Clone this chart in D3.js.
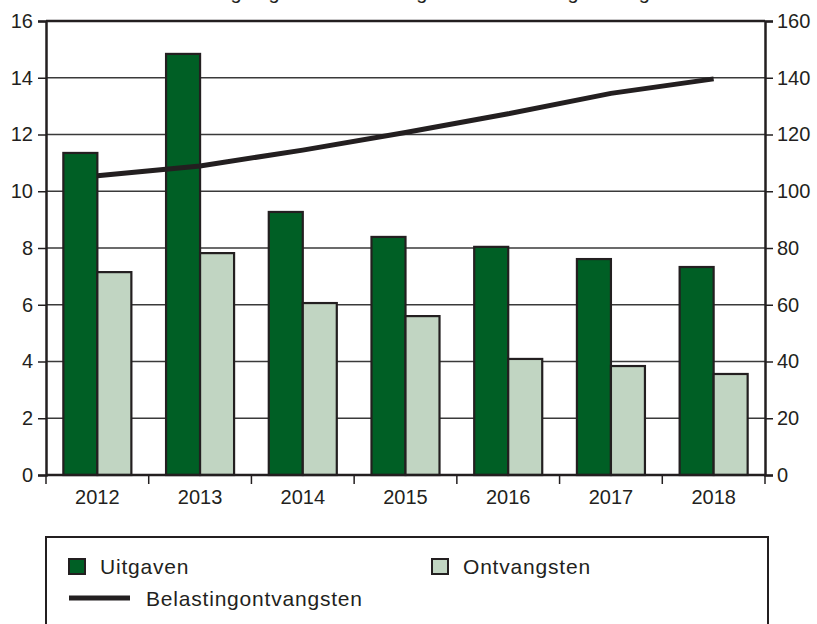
<!DOCTYPE html>
<html>
<head>
<meta charset="utf-8">
<script src="https://cdn.jsdelivr.net/npm/d3@7.9.0/dist/d3.min.js"></script>
<style>
  body { margin: 0; background: #fff; }
  svg { display: block; font-family: "Liberation Sans", Arial, sans-serif; }
</style>
</head>
<body>
<svg id="chart" width="817" height="624"></svg>
<script>
const years = ['2012', '2013', '2014', '2015', '2016', '2017', '2018'];
const uitgaven = [11.35, 14.84, 9.27, 8.39, 8.04, 7.61, 7.33];
const ontvangsten = [7.15, 7.82, 6.06, 5.6, 4.09, 3.84, 3.56];
const belasting = [105.5, 108.9, 114.5, 120.7, 127.3, 134.5, 139.6];
const leftTicks = [0, 2, 4, 6, 8, 10, 12, 14, 16];
const rightTicks = [0, 20, 40, 60, 80, 100, 120, 140, 160];

const dark = '#005f25';
const light = '#c1d5c2';
const ink = '#231f20';

const svg = d3.select('#chart');
const area = { left: 46, right: 765, top: 21, bottom: 475 };

const x = d3.scaleBand().domain(years).range([area.left, area.right]);
const inner = d3.scaleBand().domain(['u', 'o']).range([0, x.bandwidth()]).paddingOuter(0.51);
const yL = d3.scaleLinear().domain([0, 16]).range([area.bottom, area.top]);
const yR = d3.scaleLinear().domain([0, 160]).range([area.bottom, area.top]);

// title, cut off at the top edge like in the source
svg.append('text')
  .attr('x', 408).attr('y', -1)
  .attr('text-anchor', 'middle')
  .attr('font-size', 20).attr('fill', ink)
  .text('Ontwikkeling uitgaven en ontvangsten en belastingontvangsten');

// gridlines
svg.append('g')
  .selectAll('line')
  .data(leftTicks.slice(1))
  .join('line')
  .attr('x1', area.left).attr('x2', area.right)
  .attr('y1', d => yL(d)).attr('y2', d => yL(d))
  .attr('stroke', '#3a3a3a').attr('stroke-width', 1.5);

// bars
const groups = svg.append('g')
  .selectAll('g')
  .data(years)
  .join('g')
  .attr('transform', d => `translate(${x(d)},0)`);

groups.append('rect')
  .attr('x', inner('u')).attr('width', inner.bandwidth())
  .attr('y', (d, i) => yL(uitgaven[i]))
  .attr('height', (d, i) => yL(0) - yL(uitgaven[i]))
  .attr('fill', dark).attr('stroke', ink).attr('stroke-width', 2.2);

groups.append('rect')
  .attr('x', inner('o')).attr('width', inner.bandwidth())
  .attr('y', (d, i) => yL(ontvangsten[i]))
  .attr('height', (d, i) => yL(0) - yL(ontvangsten[i]))
  .attr('fill', light).attr('stroke', ink).attr('stroke-width', 2.2);

// line
const line = d3.line()
  .x((d, i) => x(years[i]) + x.bandwidth() / 2)
  .y(d => yR(d));
svg.append('path')
  .datum(belasting)
  .attr('d', line)
  .attr('fill', 'none').attr('stroke', ink).attr('stroke-width', 5);

// top frame line
svg.append('line')
  .attr('x1', area.left).attr('x2', area.right)
  .attr('y1', area.top).attr('y2', area.top)
  .attr('stroke', ink).attr('stroke-width', 2.5);

// axes
const axisLeft = d3.axisLeft(yL).tickValues(leftTicks).tickSize(8).tickPadding(5);
const gL = svg.append('g').attr('transform', `translate(${area.left},0)`).call(axisLeft);

const axisRight = d3.axisRight(yR).tickValues(rightTicks).tickSize(8).tickPadding(4);
const gR = svg.append('g').attr('transform', `translate(${area.right},0)`).call(axisRight);

const axisBottom = d3.axisBottom(x).tickSize(0).tickPadding(15);
const gB = svg.append('g').attr('transform', `translate(0,${area.bottom})`).call(axisBottom);

// ticks at band edges
svg.append('g')
  .selectAll('line')
  .data(years.map(d => x(d)).concat([area.right]))
  .join('line')
  .attr('x1', d => d).attr('x2', d => d)
  .attr('y1', area.bottom).attr('y2', area.bottom + 9)
  .attr('stroke', ink).attr('stroke-width', 1.5);

[gL, gR, gB].forEach(g => {
  g.select('.domain').attr('stroke', ink).attr('stroke-width', 2.5);
  g.selectAll('.tick line').attr('stroke', ink).attr('stroke-width', 1.5);
  g.selectAll('text').attr('font-size', 20).attr('fill', ink)
    .style('font-family', '"Liberation Sans", Arial, sans-serif');
});
gB.select('.domain').attr('d', `M${area.left},0H${area.right}`);

// legend
const legend = svg.append('g');
legend.append('rect')
  .attr('x', 46).attr('y', 537).attr('width', 722).attr('height', 100)
  .attr('fill', '#fff').attr('stroke', ink).attr('stroke-width', 2);

const legendItems = [
  { label: 'Uitgaven', fill: dark, x: 69 },
  { label: 'Ontvangsten', fill: light, x: 432 }
];
legend.selectAll('rect.key')
  .data(legendItems)
  .join('rect')
  .attr('class', 'key')
  .attr('x', d => d.x).attr('y', 559)
  .attr('width', 16).attr('height', 15)
  .attr('fill', d => d.fill).attr('stroke', ink).attr('stroke-width', 2);
legend.selectAll('text.key')
  .data(legendItems)
  .join('text')
  .attr('class', 'key')
  .attr('x', d => d.x + 31).attr('y', 574)
  .attr('font-size', 21).attr('letter-spacing', 0.8).attr('fill', ink)
  .text(d => d.label);

legend.append('line')
  .attr('x1', 69).attr('x2', 130).attr('y1', 598).attr('y2', 598)
  .attr('stroke', ink).attr('stroke-width', 5);
legend.append('text')
  .attr('x', 146).attr('y', 606)
  .attr('font-size', 21).attr('letter-spacing', 0.8).attr('fill', ink)
  .text('Belastingontvangsten');
</script>
</body>
</html>
